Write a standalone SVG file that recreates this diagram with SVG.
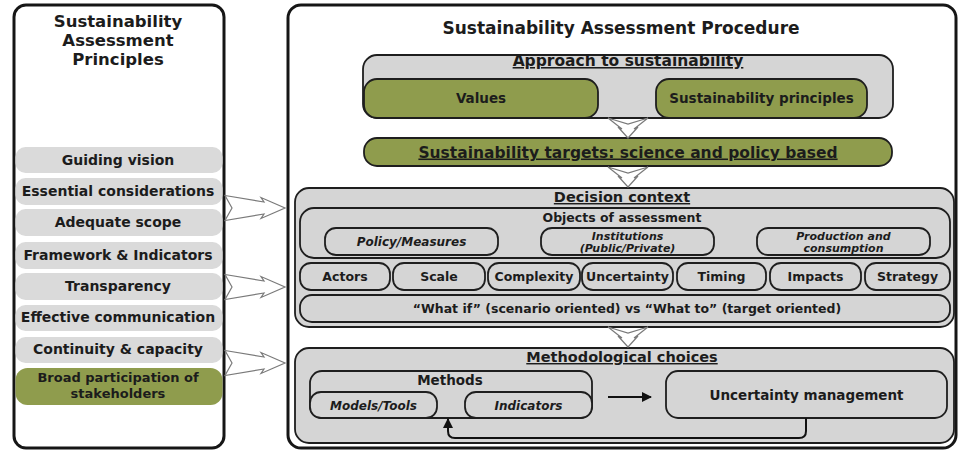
<svg xmlns="http://www.w3.org/2000/svg" width="961" height="452" viewBox="0 0 961 452">
  <defs>
    <style>
      text { font-family: "DejaVu Sans", "Liberation Sans", sans-serif; font-weight: bold; fill: #1c1c1c; text-anchor: middle; }
      .panel { fill: #ffffff; stroke: #161616; stroke-width: 3; }
      .item { fill: #dadada; }
      .item-green { fill: #8f9c4d; }
      .box { fill: #d5d5d5; stroke: #1e1e1e; stroke-width: 1.8; }
      .green { fill: #8f9c4d; stroke: #1e1e1e; stroke-width: 1.8; }
      .ptitle { font-size: 16.5px; }
      .rtitle { font-size: 17px; }
      .itxt { font-size: 14px; }
      .itxt2 { font-size: 13px; }
      .head { font-size: 15.5px; text-decoration: underline; }
      .sub { font-size: 14.5px; text-decoration: underline; }
      .lbl { font-size: 13.5px; }
      .sm { font-size: 12.5px; }
      .it { font-size: 12px; font-style: italic; }
      .it2 { font-size: 11px; font-style: italic; }
      .hollow { fill: #ffffff; stroke: #7a7a7a; stroke-width: 1.2; stroke-linejoin: miter; }
      .flow { fill: none; stroke: #111111; stroke-width: 2; }
    </style>
    <marker id="ah" viewBox="0 0 10 10" refX="9" refY="5" markerWidth="5" markerHeight="5" orient="auto">
      <path d="M0,0 L10,5 L0,10 z" fill="#111111"/>
    </marker>
    <!-- hollow notched arrow pointing right, tail at x=0, tip at x=60 -->
    <path id="harrow" class="hollow" d="M0,-12.5 L39,-6 L36,-10.5 L60,0 L36,10.5 L39,6 L0,12.5 L7,0 Z"/>
    <!-- hollow notched arrow pointing down, tail at y=0, tip at y=20 -->
    <path id="varrow" class="hollow" d="M-20,0 L-6,11 L-10,9 L0,20 L10,9 L6,11 L20,0 L0,6 Z"/>
  </defs>

  <rect x="0" y="0" width="961" height="452" fill="#ffffff"/>

  <!-- Left panel: principles -->
  <g id="principles">
    <rect class="panel" x="14" y="5" width="210" height="443" rx="12"/>
    <text class="ptitle" x="118" y="27">Sustainability</text>
    <text class="ptitle" x="118" y="46">Assessment</text>
    <text class="ptitle" x="118" y="65">Principles</text>
  </g>
  <g id="p-guiding-vision">
    <rect class="item" x="15.5" y="147" width="207" height="26" rx="10"/>
    <text class="itxt" x="118" y="164.5">Guiding vision</text>
  </g>
  <g id="p-essential-considerations">
    <rect class="item" x="15.5" y="178" width="207" height="27" rx="10"/>
    <text class="itxt" x="118" y="196">Essential considerations</text>
  </g>
  <g id="p-adequate-scope">
    <rect class="item" x="15.5" y="209" width="207" height="27" rx="10"/>
    <text class="itxt" x="118" y="227">Adequate scope</text>
  </g>
  <g id="p-framework-indicators">
    <rect class="item" x="15.5" y="242" width="207" height="27" rx="10"/>
    <text class="itxt" x="118" y="259.5">Framework &amp; Indicators</text>
  </g>
  <g id="p-transparency">
    <rect class="item" x="15.5" y="273" width="207" height="27" rx="10"/>
    <text class="itxt" x="118" y="290.5">Transparency</text>
  </g>
  <g id="p-effective-communication">
    <rect class="item" x="15.5" y="305" width="207" height="26" rx="10"/>
    <text class="itxt" x="118" y="322">Effective communication</text>
  </g>
  <g id="p-continuity-capacity">
    <rect class="item" x="15.5" y="337" width="207" height="26" rx="10"/>
    <text class="itxt" x="118" y="354">Continuity &amp; capacity</text>
  </g>
  <g id="p-broad-participation">
    <rect class="item-green" x="15.5" y="368" width="207" height="37" rx="12"/>
    <text class="itxt2" x="118" y="382">Broad participation of</text>
    <text class="itxt2" x="118" y="398">stakeholders</text>
  </g>

  <!-- Right panel: procedure -->
  <g id="procedure">
    <rect class="panel" x="288" y="5" width="668" height="443" rx="13"/>
    <text class="rtitle" x="621" y="34">Sustainability Assessment Procedure</text>
  </g>

  <g id="approach">
    <rect class="box" x="363" y="55" width="530" height="63" rx="14"/>
    <text class="head" x="628" y="66">Approach to sustainability</text>
  </g>
  <g id="values">
    <rect class="green" x="364" y="79" width="234" height="39" rx="13"/>
    <text class="lbl" x="481" y="103">Values</text>
  </g>
  <g id="sustainability-principles">
    <rect class="green" x="656" y="79" width="211" height="39" rx="13"/>
    <text class="lbl" x="761.5" y="103">Sustainability principles</text>
  </g>

  <g id="targets">
    <rect class="green" x="364" y="138" width="528" height="28" rx="13"/>
    <text class="head" x="628" y="157.5">Sustainability targets: science and policy based</text>
  </g>

  <g id="decision-context">
    <rect class="box" x="295" y="188" width="659" height="139" rx="14"/>
    <text class="sub" x="622" y="202">Decision context</text>
  </g>
  <g id="objects">
    <rect class="box" x="300" y="208" width="650" height="50" rx="14"/>
    <text class="sm" x="622" y="222">Objects of assessment</text>
  </g>
  <g id="policy-measures">
    <rect class="box" x="325" y="228" width="173" height="27" rx="11"/>
    <text class="it" x="411.5" y="246">Policy/Measures</text>
  </g>
  <g id="institutions">
    <rect class="box" x="541" y="228" width="173" height="27" rx="11"/>
    <text class="it2" x="627.5" y="239.5">Institutions</text>
    <text class="it2" x="627.5" y="252">(Public/Private)</text>
  </g>
  <g id="production">
    <rect class="box" x="757" y="228" width="173" height="27" rx="11"/>
    <text class="it2" x="843.5" y="239.5">Production and</text>
    <text class="it2" x="843.5" y="252">consumption</text>
  </g>
  <g id="actors">
    <rect class="box" x="300" y="263" width="90" height="27" rx="11"/>
    <text class="sm" x="345" y="281">Actors</text>
  </g>
  <g id="scale">
    <rect class="box" x="393" y="263" width="92" height="27" rx="11"/>
    <text class="sm" x="439" y="281">Scale</text>
  </g>
  <g id="complexity">
    <rect class="box" x="488" y="263" width="92" height="27" rx="11"/>
    <text class="sm" x="534" y="281">Complexity</text>
  </g>
  <g id="uncertainty">
    <rect class="box" x="582" y="263" width="91" height="27" rx="11"/>
    <text class="sm" x="627.5" y="281">Uncertainty</text>
  </g>
  <g id="timing">
    <rect class="box" x="677" y="263" width="89" height="27" rx="11"/>
    <text class="sm" x="721.5" y="281">Timing</text>
  </g>
  <g id="impacts">
    <rect class="box" x="770" y="263" width="91" height="27" rx="11"/>
    <text class="sm" x="815.5" y="281">Impacts</text>
  </g>
  <g id="strategy">
    <rect class="box" x="865" y="263" width="85" height="27" rx="11"/>
    <text class="sm" x="907.5" y="281">Strategy</text>
  </g>
  <g id="what-if">
    <rect class="box" x="300" y="295" width="650" height="27" rx="12"/>
    <text class="sm" x="627" y="313" font-size="12">“What if” (scenario oriented) vs “What to” (target oriented)</text>
  </g>

  <g id="methodological-choices">
    <rect class="box" x="295" y="348" width="659" height="95" rx="14"/>
    <text class="sub" x="622" y="362">Methodological choices</text>
  </g>
  <g id="methods">
    <rect class="box" x="310" y="371" width="282" height="47" rx="12"/>
    <text class="lbl" x="450" y="384.5">Methods</text>
  </g>
  <g id="models-tools">
    <rect class="box" x="310" y="392" width="127" height="26" rx="11"/>
    <text class="it" x="373.5" y="409.5">Models/Tools</text>
  </g>
  <g id="indicators">
    <rect class="box" x="465" y="392" width="127" height="26" rx="11"/>
    <text class="it" x="528.5" y="409.5">Indicators</text>
  </g>
  <g id="uncertainty-management">
    <rect class="box" x="666" y="371" width="281" height="47" rx="12"/>
    <text class="lbl" x="806.5" y="399.5">Uncertainty management</text>
  </g>

  <!-- Connectors -->
  <g id="connectors">
    <use href="#harrow" x="225" y="208"/>
    <use href="#harrow" x="225" y="287"/>
    <use href="#harrow" x="225" y="363"/>
    <use href="#varrow" x="628" y="118"/>
    <use href="#varrow" x="628" y="167"/>
    <use href="#varrow" x="628" y="327"/>
    <path class="flow" d="M608,397 H651" marker-end="url(#ah)"/>
    <path class="flow" d="M806,418 V431 Q806,438 799,438 H455 Q448,438 448,431 V419" marker-end="url(#ah)"/>
  </g>
</svg>
